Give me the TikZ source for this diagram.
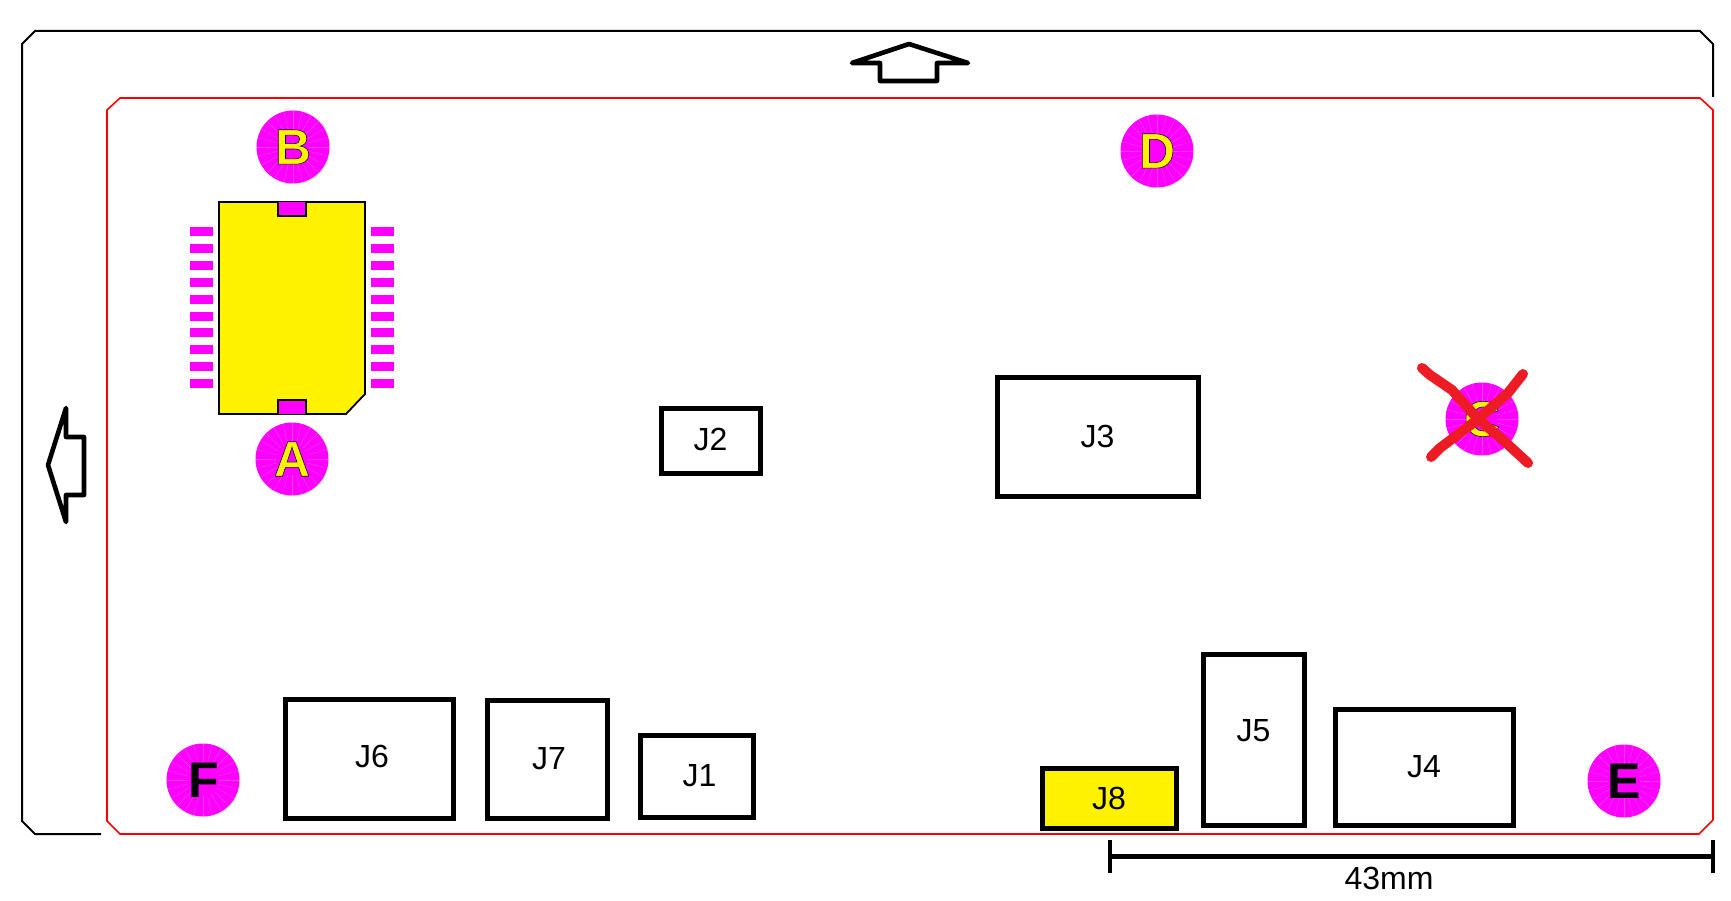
\documentclass[tikz,border=0pt]{standalone}
\usepackage{xcolor}
\usepackage{tikz}
\usepackage{fontspec}
\setmainfont{Liberation Sans}
\usetikzlibrary{shapes,arrows.meta,positioning}
\definecolor{padmagenta}{HTML}{FF00FF}
\definecolor{rayviolet}{HTML}{FF40FF}
\definecolor{partyellow}{HTML}{FFF200}
\definecolor{crossred}{HTML}{ED1C24}
\newcommand{\padoutline}{\special{pdf:code 2 Tr 0.6 w 0.05 0.05 0.25 RG}}
\tikzstyle{conn} = [rectangle, draw=black, line width=5pt, inner sep=0pt, font=\fontsize{32}{38}\selectfont]
\tikzstyle{pad} = [circle, fill=padmagenta, minimum size=73pt, inner sep=0pt, font=\fontsize{50}{60}\selectfont\bfseries,
    path picture={\foreach \a in {0,15,...,345} \draw[rayviolet, line width=0.4pt] (path picture bounding box.center) ++(\a:16) -- ++(\a:20);}]
\tikzstyle{outline} = [draw=black, line width=2pt]
\tikzstyle{pcb} = [draw=red, line width=1.6pt]
\tikzstyle{direction} = [draw=black, line width=4.6pt, line join=round, line cap=round]
\tikzstyle{pin} = [fill=padmagenta]
\tikzstyle{cross} = [draw=crossred, line width=10pt, line cap=round, line join=round]
\begin{document}
\begin{tikzpicture}[x=1pt,y=-1pt]
\useasboundingbox (0,0) rectangle (1731,901);
% board outlines
\draw[outline] (101,834) -- (35,834) -- (22,821) -- (22,44) -- (35,31) -- (1700,31) -- (1713,44) -- (1713,97);
\draw[pcb] (120,98) -- (1700,98) -- (1713,110) -- (1713,820) -- (1699,834) -- (120,834) -- (107,821) -- (107,110) -- cycle;
% direction arrows
\draw[direction] (909,44) -- (968,63) -- (937,63) -- (937,81) -- (880,81) -- (880,63) -- (852,63) -- cycle;
\draw[direction] (48,465) -- (66,408) -- (66,437) -- (84,437) -- (84,495) -- (66,495) -- (66,522) -- cycle;
% chip
\foreach \y in {0,...,9} {
  \fill[pin] (190,227.5+16.8*\y) rectangle (213,236.5+16.8*\y);
  \fill[pin] (371,227.5+16.8*\y) rectangle (394,236.5+16.8*\y);
}
\draw[fill=partyellow, line width=1.8pt] (219,202) -- (365,202) -- (365,394) -- (346,414) -- (219,414) -- cycle;
\draw[fill=padmagenta, line width=2.4pt] (278,202) -- (278,216) -- (306,216) -- (306,202);
\draw[fill=padmagenta, line width=2.4pt] (278,414) -- (278,400) -- (306,400) -- (306,414);
% pads
\node[pad, text=partyellow] (padB) at (293,147) {\padoutline B};
\node[pad, text=partyellow] (padA) at (292,459) {\padoutline A};
\node[pad, text=partyellow] (padC) at (1482,419) {\padoutline C};
\node[pad, text=partyellow] (padD) at (1157,151) {\padoutline D};
\node[pad, text=black] (padE) at (1624,781) {E};
\node[pad, text=black] (padF) at (203,780) {\hspace{2pt}F};
\draw[cross] (1422,368) -- (1430,375) -- (1452,390) -- (1477,418) -- (1503,440) -- (1528,463);
\draw[cross] (1523,374) -- (1508,393) -- (1477,420) -- (1440,448) -- (1431,457);
% connectors
\node[conn, minimum width=99pt, minimum height=65pt] (J2) at (710.5,440.5) {\raisebox{2pt}{J2}};
\node[conn, minimum width=201pt, minimum height=119pt] (J3) at (1097.5,436.5) {J3};
\node[conn, minimum width=168pt, minimum height=119pt] (J6) at (369,758.5) {\hspace{6pt}\raisebox{4pt}{J6}};
\node[conn, minimum width=120pt, minimum height=118pt] (J7) at (547,759) {\hspace{4pt}J7};
\node[conn, minimum width=113pt, minimum height=82pt] (J1) at (696.5,776) {\hspace{6pt}\raisebox{2pt}{J1}};
\node[conn, fill=partyellow, minimum width=134pt, minimum height=60pt] (J8) at (1109,798) {J8};
\node[conn, minimum width=101pt, minimum height=171pt] (J5) at (1253.5,739.5) {\raisebox{18pt}{J5}};
\node[conn, minimum width=178pt, minimum height=116pt] (J4) at (1424,767) {\raisebox{2pt}{J4}};
% dimension
\coordinate (dimL) at (1110,856);
\coordinate (dimR) at (1713,856);
\draw[line width=5pt] (dimL) -- (dimR);
\draw[line width=4.6pt] (1110,840) -- (1110,873);
\draw[line width=4.6pt] (1713,840) -- (1713,873);
\node[font=\fontsize{32}{38}\selectfont] (dimtext) at (1389,878) {43mm};
\end{tikzpicture}
\end{document}
